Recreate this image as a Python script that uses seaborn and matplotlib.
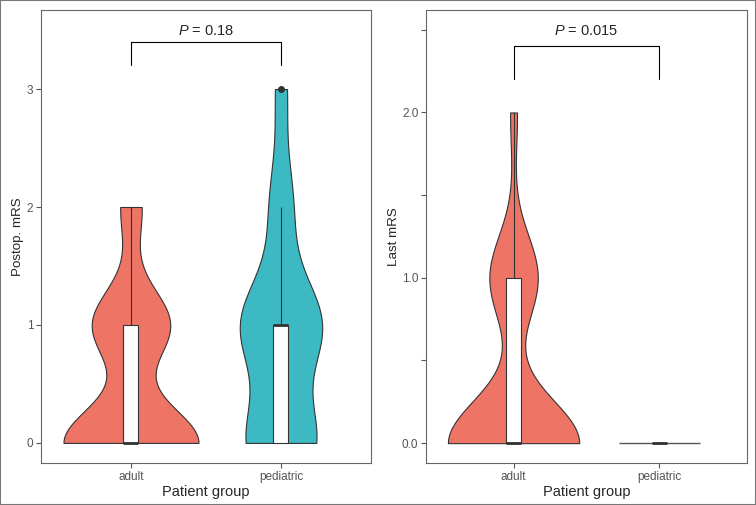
import numpy as np
import pandas as pd
import matplotlib
matplotlib.use("Agg")
import matplotlib.pyplot as plt
import seaborn as sns
from matplotlib.patches import Rectangle

mrs_levels = [0, 1, 2, 3]
groups = ["adult", "pediatric"]
postop_adult_counts = [19, 11, 3, 0]
postop_pediatric_counts = [6, 7, 2, 1]
last_adult_counts = [19, 7, 1, 0]
last_pediatric_counts = [14, 0, 0, 0]

p_values = ["0.18", "0.015"]
y_titles = ["Postop. mRS", "Last mRS"]
left_yticks = [0, 1, 2, 3]
left_yticklabels = ["0", "1", "2", "3"]
right_yticks = [0, 0.5, 1, 1.5, 2, 2.5]
right_yticklabels = ["0.0", "", "1.0", "", "2.0", ""]
palette = {"adult": "#EE7566", "pediatric": "#3DB9C4"}

sns.set_theme(style="white")
plt.rcParams["font.family"] = ["Liberation Sans", "DejaVu Sans"]
plt.rcParams["mathtext.fontset"] = "custom"
plt.rcParams["mathtext.it"] = "Liberation Sans:italic"
plt.rcParams["mathtext.rm"] = "Liberation Sans"


def to_frame(adult_counts, pediatric_counts):
    parts = []
    for g, counts in zip(groups, [adult_counts, pediatric_counts]):
        parts.append(pd.DataFrame({"group": g, "score": np.repeat(mrs_levels, counts)}))
    return pd.concat(parts, ignore_index=True)


def nrd0(kde):
    # R's bw.nrd0 (ggplot's default), returned as a factor of the sample sd
    x = kde.dataset[0]
    sd = np.std(x, ddof=1)
    q75, q25 = np.percentile(x, [75, 25])
    lo = min(sd, (q75 - q25) / 1.34)
    return 0.9 * lo * len(x) ** -0.2 / sd


def draw_panel(ax, df, ylim, yticks, yticklabels, ylabel, p_text, br_lo, br_hi, txt_y, ylab_pad):
    varied = df.groupby("group")["score"].transform("nunique") > 1
    sns.violinplot(data=df[varied], x="group", y="score", hue="group",
                   order=groups, hue_order=groups, palette=palette,
                   cut=0, width=0.9, density_norm="area", common_norm=True,
                   bw_method=nrd0, inner=None, linecolor="#333333",
                   linewidth=0.8, saturation=1, legend=False, ax=ax)
    # groups with a single value collapse to a flat line
    for i, g in enumerate(groups):
        vals = df.loc[df["group"] == g, "score"]
        if vals.nunique() == 1:
            ax.hlines(vals.iloc[0], i - 0.275, i + 0.275, color="#555555", lw=1)

    sns.boxplot(data=df, x="group", y="score", order=groups, width=0.1,
                color="white", saturation=1, linecolor="#333333", linewidth=0.8,
                showcaps=False, medianprops=dict(linewidth=2),
                flierprops=dict(marker="o", markersize=4, markerfacecolor="#333333",
                                markeredgecolor="#333333"),
                ax=ax)

    # significance bracket
    ax.plot([0, 0, 1, 1], [br_lo, br_hi, br_hi, br_lo], color="black", lw=0.8)
    ax.text(0.5, txt_y, f"$P$ = {p_text}", ha="center", va="center", fontsize=10.5)

    ax.set_xlim(-0.6, 1.6)
    ax.set_ylim(*ylim)
    ax.set_yticks(yticks)
    ax.set_yticklabels(yticklabels)
    ax.set_xlabel("Patient group", fontsize=10.5, labelpad=2)
    ax.set_ylabel(ylabel, fontsize=9.6, labelpad=ylab_pad)
    for s in ax.spines.values():
        s.set_visible(True)
        s.set_color("#666666")
        s.set_linewidth(0.8)
    ax.tick_params(direction="out", length=3.5, width=0.8, color="#555555",
                   labelsize=8.5, labelcolor="#555555", pad=2,
                   bottom=True, left=True)


fig = plt.figure(figsize=(7.56, 5.05), dpi=100)
ax1 = fig.add_axes([0.0542, 0.0832, 0.4365, 0.8970])
ax2 = fig.add_axes([0.5635, 0.0832, 0.4246, 0.8970])

draw_panel(ax1, to_frame(postop_adult_counts, postop_pediatric_counts),
           (-0.17, 3.67), left_yticks, left_yticklabels, y_titles[0],
           p_values[0], 3.2, 3.4, 3.49, 2)
draw_panel(ax2, to_frame(last_adult_counts, last_pediatric_counts),
           (-0.12, 2.62), right_yticks, right_yticklabels, y_titles[1],
           p_values[1], 2.2, 2.4, 2.49, 1)

fig.patches.append(Rectangle((0, 0), 1, 1, transform=fig.transFigure, fill=False,
                             ec="#777777", lw=1.5))
fig.savefig("out.png", dpi=100)
